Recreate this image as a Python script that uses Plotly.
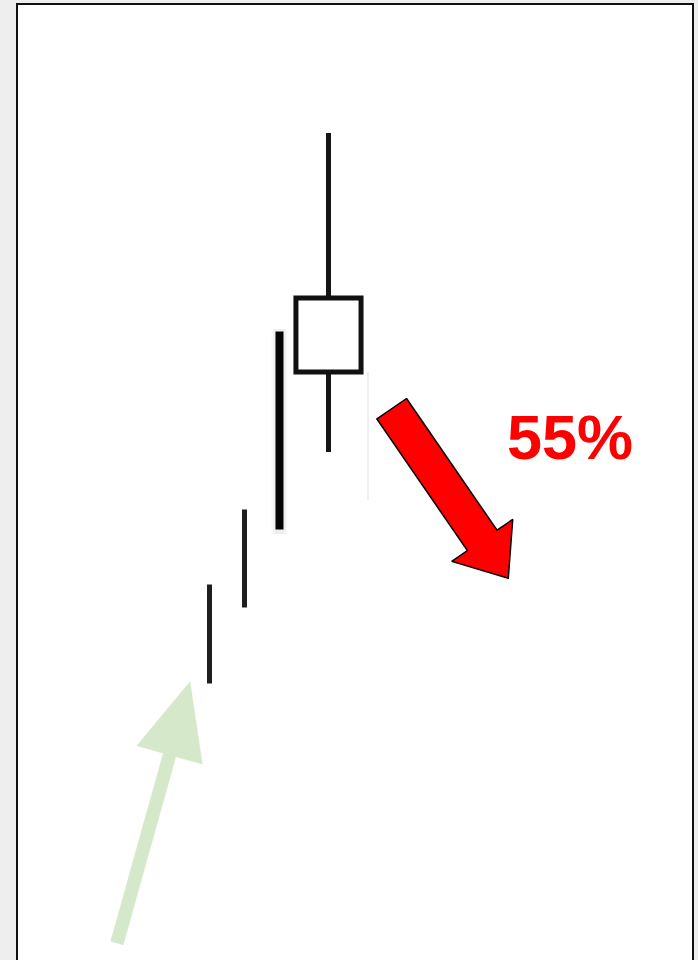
import plotly.graph_objects as go
import numpy as np

# ---------------- data ----------------
sessions = [1, 2, 3, 4.4]               # candle positions
highs = [37.8, 45.3, 63.1, 82.7]
lows = [27.4, 35.0, 42.8, 50.8]
body_open = 58.8                         # last candle (hollow body)
body_close = 66.2

green_tail = (-1.643, 1.7)               # rising trend arrow
green_tip = (0.443, 27.83)
red_tail = (6.206, 55.13)                # falling arrow
red_tip = (9.537, 38.17)
label_text = "55%"
label_pos = (11.314, 52.35)

# ---------------- layout constants ----------------
W, H = 698, 960
ML, MR, MT, MB = 18, 6, 5, 0
XR = [-4.471, 14.786]
YR = [0, 95.5]
PW, PH = W - ML - MR, H - MT - MB
SX = PW / (XR[1] - XR[0])   # px per x unit
SY = PH / (YR[1] - YR[0])   # px per y unit


def arrow_poly(tail, tip, shaft_hw, head_len, head_hw):
    t = np.array([(tail[0] - XR[0]) * SX, (tail[1] - YR[0]) * SY])
    p = np.array([(tip[0] - XR[0]) * SX, (tip[1] - YR[0]) * SY])
    d = p - t
    u = d / np.linalg.norm(d)
    n = np.array([-u[1], u[0]])
    neck = p - u * head_len
    pts = [t + n * shaft_hw, neck + n * shaft_hw, neck + n * head_hw, p,
           neck - n * head_hw, neck - n * shaft_hw, t - n * shaft_hw, t + n * shaft_hw]
    xs = [q[0] / SX + XR[0] for q in pts]
    ys = [q[1] / SY + YR[0] for q in pts]
    return xs, ys


fig = go.Figure()

# faint ghost line right of last candle
fig.add_trace(go.Scatter(x=[sessions[3] + 1.13, sessions[3] + 1.13], y=[body_open, 46.0],
                         mode="lines", line=dict(color="#efefef", width=2), hoverinfo="skip"))

# soft halo behind the thick candle
for w, a in [(16, 0.025), (12, 0.04)]:
    fig.add_trace(go.Scatter(x=[sessions[2], sessions[2]], y=[lows[2] - 0.2, highs[2]],
                             mode="lines", line=dict(color=f"rgba(0,0,0,{a})", width=w),
                             hoverinfo="skip"))

# first three candles as solid strokes
widths = [5, 5, 8]
colors = ["#1e1e1e", "#1e1e1e", "#050505"]
for i in range(3):
    fig.add_trace(go.Scatter(x=[sessions[i], sessions[i]], y=[lows[i] + 0.25, highs[i] - 0.25],
                             mode="lines", line=dict(color=colors[i], width=widths[i]),
                             hoverinfo="skip"))

# last candle: wicks
xc = sessions[3]
fig.add_trace(go.Scatter(x=[xc, xc, None, xc, xc],
                         y=[highs[3], body_close, None, body_open, lows[3]],
                         mode="lines", line=dict(color="#151515", width=5), hoverinfo="skip"))
# last candle: hollow body (path starts mid-edge so every corner is a clean join)
bh = 0.93
fig.add_trace(go.Scatter(x=[xc, xc + bh, xc + bh, xc - bh, xc - bh, xc, xc + 0.2],
                         y=[body_open, body_open, body_close, body_close, body_open, body_open,
                            body_open],
                         mode="lines", fill="toself", fillcolor="white",
                         line=dict(color="#111111", width=5), hoverinfo="skip"))

# green arrow
gx, gy = arrow_poly(green_tail, green_tip, 6.5, 76, 34)
fig.add_trace(go.Scatter(x=gx, y=gy, mode="lines", fill="toself",
                         fillcolor="#d5e8c9", line=dict(color="#d5e8c9", width=0.5),
                         hoverinfo="skip"))

# red arrow
rx, ry = arrow_poly(red_tail, red_tip, 18, 46, 37)
fig.add_trace(go.Scatter(x=rx, y=ry, mode="lines", fill="toself",
                         fillcolor="#ff0000", line=dict(color="#000000", width=1.5),
                         hoverinfo="skip"))

fig.add_annotation(x=label_pos[0], y=label_pos[1], text=f"<b>{label_text}</b>",
                   showarrow=False, xanchor="center", yanchor="middle",
                   font=dict(family="Liberation Sans, Arial", size=63, color="#ff0000"))

fig.update_layout(
    width=W, height=H, margin=dict(l=ML, r=MR, t=MT, b=MB, pad=0),
    paper_bgcolor="#eeeeee", plot_bgcolor="white", showlegend=False,
    xaxis=dict(range=XR, showgrid=False, zeroline=False, showticklabels=False, ticks="",
               side="top", showline=True, linecolor="#111111", linewidth=2, fixedrange=True),
    yaxis=dict(range=YR, showgrid=False, zeroline=False, showticklabels=False, ticks="",
               showline=True, mirror=True, linecolor="#111111", linewidth=2, fixedrange=True),
)

fig.write_html("out.html", config={"displayModeBar": False},
               post_script="document.body.style.margin='0';document.body.style.overflow='hidden';")
